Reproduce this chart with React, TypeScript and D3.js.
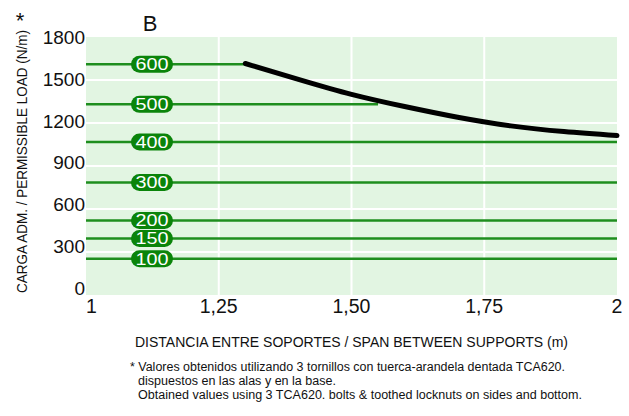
import React from "react";
import * as d3 from "d3";

const xTicks = [1, 1.25, 1.5, 1.75, 2];
const xTickLabels = ["1", "1,25", "1,50", "1,75", "2"];
const yTicks = [0, 300, 600, 900, 1200, 1500, 1800];
const refLabels = ["600", "500", "400", "300", "200", "150", "100"];
const refValues = [1610, 1330, 1068, 785, 520, 394, 253];
const refEnds = [1.3, 1.55, 2, 2, 2, 2, 2];
const curveX = [1.3, 1.4, 1.5, 1.6, 1.7, 1.8, 1.9, 2.0];
const curveY = [1615, 1505, 1400, 1315, 1240, 1180, 1140, 1112];

const W = 629;
const H = 416;
const FONT = "'Liberation Sans', Arial, sans-serif";

export default function App() {
  const x = d3.scaleLinear().domain([1, 2]).range([86, 617]);
  const y = d3.scaleLinear().domain([0, 1800]).range([295, 37]);
  const yLab = d3.scaleLinear().domain([0, 1800]).range([288, 37]);
  const pillX = 152;

  const curvePts: [number, number][] = curveX.map((v, i) => [v, curveY[i]]);
  const line = d3
    .line<[number, number]>()
    .x((d) => x(d[0]))
    .y((d) => y(d[1]))
    .curve(d3.curveNatural);

  return (
    <svg
      width={W}
      height={H}
      style={{ position: "absolute", left: 0, top: 0, background: "#fff" }}
      fontFamily={FONT}
    >
      <rect x={x(1)} y={y(1800)} width={x(2) - x(1)} height={y(0) - y(1800)} fill="#e2f5e2" />
      {yTicks.slice(1, -1).map((v) => (
        <line key={"gy" + v} x1={x(1)} x2={x(2)} y1={y(v)} y2={y(v)} stroke="#fff" strokeWidth={2} />
      ))}
      {xTicks.slice(1, -1).map((v) => (
        <line key={"gx" + v} x1={x(v)} x2={x(v)} y1={y(0)} y2={y(1800)} stroke="#fff" strokeWidth={2} />
      ))}
      {refValues.map((v, i) => (
        <line
          key={"r" + i}
          x1={x(1)}
          x2={x(refEnds[i])}
          y1={y(v)}
          y2={y(v)}
          stroke="#1e8e1e"
          strokeWidth={2.5}
        />
      ))}
      <path d={line(curvePts) || ""} fill="none" stroke="#000" strokeWidth={5} strokeLinecap="round" />
      {refValues.map((v, i) => (
        <g key={"p" + i}>
          <rect x={pillX - 21} y={y(v) - 8.5} width={42} height={17} rx={8.5} fill="#0a840a" />
          <text
            x={pillX}
            y={y(v)}
            dy="0.36em"
            textAnchor="middle"
            fontSize={16.5}
            fill="#fff"
            textLength={33}
            lengthAdjust="spacingAndGlyphs"
          >
            {refLabels[i]}
          </text>
        </g>
      ))}
      {yTicks.map((v) => (
        <text key={"yl" + v} x={85} y={yLab(v)} dy="0.36em" textAnchor="end" fontSize={19} fill="#111">
          {v}
        </text>
      ))}
      {xTicks.map((v, i) => (
        <text
          key={"xl" + v}
          x={x(v)}
          y={313}
          textAnchor={i === 0 ? "start" : "middle"}
          fontSize={19.5}
          fill="#111"
        >
          {xTickLabels[i]}
        </text>
      ))}
      <text x={150} y={31} textAnchor="middle" fontSize={22} fill="#111">B</text>
      <text
        transform="translate(27,293) rotate(-90)"
        fontSize={15}
        fill="#111"
        textLength={263}
        lengthAdjust="spacingAndGlyphs"
      >
        CARGA ADM. / PERMISSIBLE LOAD (N/m)
      </text>
      <text x={20} y={28} textAnchor="middle" fontSize={22} fill="#111">*</text>
      <text x={135} y={347} fontSize={14.5} fill="#111" textLength={433} lengthAdjust="spacingAndGlyphs">
        DISTANCIA ENTRE SOPORTES / SPAN BETWEEN SUPPORTS (m)
      </text>
      <text x={130} y={371} fontSize={12.5} fill="#111" textLength={435} lengthAdjust="spacingAndGlyphs">
        * Valores obtenidos utilizando 3 tornillos con tuerca-arandela dentada TCA620.
      </text>
      <text x={138} y={385} fontSize={12.5} fill="#111" textLength={198} lengthAdjust="spacingAndGlyphs">
        dispuestos en las alas y en la base.
      </text>
      <text x={138} y={399} fontSize={12.5} fill="#111" textLength={444} lengthAdjust="spacingAndGlyphs">
        Obtained values using 3 TCA620. bolts &amp; toothed locknuts on sides and bottom.
      </text>
    </svg>
  );
}
